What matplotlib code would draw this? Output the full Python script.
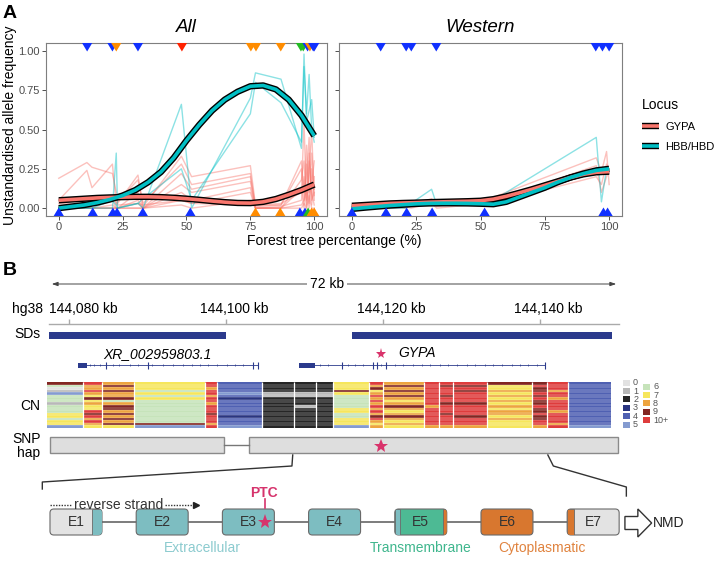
import numpy as np
import matplotlib.pyplot as plt
from matplotlib.lines import Line2D
from matplotlib.patches import Rectangle, FancyBboxPatch, FancyArrow
from matplotlib.colors import ListedColormap, BoundaryNorm
from matplotlib.legend_handler import HandlerTuple

plt.rcParams['font.family'] = ['Liberation Sans', 'DejaVu Sans']

# ---------------- panel A : data ----------------
forest_all = [0, 11, 13, 21, 22.5, 23, 31, 33, 48, 52, 75, 77, 87, 95, 96, 97, 98, 99, 100]
gypa_snps_all = [
    [0.19, 0.29, 0.26, 0.22, 0.10, 0.02, 0.03, 0.02, 0.05, 0.03, 0.02, 0.02, 0.03, 0.10, 0.55, 0.02, 0.30, 0.05, 0.10],
    [0.05, 0.24, 0.13, 0.28, 0.02, 0.03, 0.21, 0.01, 0.33, 0.20, 0.27, 0.02, 0.02, 0.25, 0.05, 0.40, 0.03, 0.35, 0.12],
    [0.03, 0.02, 0.05, 0.08, 0.03, 0.04, 0.18, 0.03, 0.28, 0.15, 0.22, 0.01, 0.02, 0.30, 0.10, 0.20, 0.45, 0.02, 0.20],
    [0.00, 0.00, 0.02, 0.05, 0.00, 0.00, 0.10, 0.00, 0.22, 0.12, 0.20, 0.00, 0.00, 0.18, 0.30, 0.05, 0.22, 0.50, 0.05],
    [0.00, 0.00, 0.00, 0.00, 0.00, 0.00, 0.05, 0.00, 0.15, 0.10, 0.17, 0.00, 0.00, 0.12, 0.00, 0.28, 0.10, 0.15, 0.30],
    [0.00, 0.00, 0.00, 0.02, 0.00, 0.00, 0.03, 0.00, 0.10, 0.05, 0.13, 0.00, 0.01, 0.05, 0.20, 0.00, 0.35, 0.10, 0.02],
    [0.00, 0.00, 0.00, 0.00, 0.00, 0.00, 0.00, 0.00, 0.05, 0.03, 0.10, 0.00, 0.00, 0.02, 0.05, 0.12, 0.00, 0.25, 0.08],
    [0.00, 0.00, 0.00, 0.00, 0.00, 0.00, 0.00, 0.00, 0.02, 0.00, 0.05, 0.00, 0.00, 0.00, 0.03, 0.00, 0.08, 0.00, 0.00],
]
hbb_snps_all = [
    [0.00, 0.00, 0.00, 0.00, 0.35, 0.00, 0.03, 0.00, 0.66, 0.00, 0.70, 0.86, 0.82, 0.38, 0.98, 0.55, 0.62, 0.69, 0.45],
    [0.00, 0.00, 0.00, 0.05, 0.02, 0.00, 0.03, 0.06, 0.25, 0.05, 0.60, 0.80, 0.67, 0.42, 0.90, 0.60, 0.85, 0.50, 0.42],
]

forest_w = [0, 11, 13, 21, 23, 31, 33, 52, 95, 97, 99, 100]
gypa_snps_w = [
    [0.00, 0.00, 0.00, 0.00, 0.02, 0.06, 0.01, 0.05, 0.32, 0.23, 0.36, 0.15],
    [0.00, 0.00, 0.00, 0.01, 0.00, 0.03, 0.00, 0.03, 0.27, 0.10, 0.20, 0.25],
    [0.02, 0.00, 0.03, 0.02, 0.03, 0.02, 0.02, 0.02, 0.20, 0.15, 0.28, 0.22],
]
hbb_snps_w = [
    [0.00, 0.00, 0.00, 0.00, 0.03, 0.12, 0.02, 0.02, 0.45, 0.04, 0.25, 0.25],
]

fit_x = [0, 5, 10, 15, 20, 25, 30, 35, 40, 45, 50, 55, 60, 65, 70, 75, 80, 85, 90, 95, 100]
gypa_fit_all = [0.050, 0.055, 0.060, 0.065, 0.068, 0.070, 0.072, 0.072, 0.070, 0.066, 0.060,
                0.053, 0.045, 0.038, 0.033, 0.032, 0.040, 0.058, 0.085, 0.115, 0.150]
hbb_fit_all = [0.000, 0.010, 0.020, 0.035, 0.055, 0.080, 0.115, 0.165, 0.230, 0.320, 0.430,
               0.530, 0.620, 0.690, 0.740, 0.775, 0.780, 0.755, 0.690, 0.590, 0.460]
gypa_fit_w = [0.015, 0.020, 0.025, 0.030, 0.033, 0.035, 0.038, 0.040, 0.042, 0.044, 0.047,
              0.057, 0.075, 0.097, 0.120, 0.145, 0.170, 0.195, 0.215, 0.228, 0.232]
hbb_fit_w = [-0.005, 0.003, 0.010, 0.017, 0.022, 0.027, 0.030, 0.031, 0.031, 0.030, 0.028,
             0.025, 0.040, 0.070, 0.100, 0.130, 0.165, 0.195, 0.220, 0.240, 0.250]

# triangles: x position and colour key
top_all = [(11.1, 'b'), (21, 'b'), (22.5, 'o'), (31, 'b'), (48.2, 'r'), (75.2, 'o'), (77.2, 'o'),
           (86.9, 'o'), (94.8, 'g'), (95.7, 'g'), (97.4, 'b'), (98.3, 'o'), (99.6, 'b'), (100, 'b')]
bot_all = [(0, 'b'), (13.3, 'b'), (21.2, 'b'), (22.8, 'b'), (32.9, 'b'), (51.5, 'b'), (77, 'o'),
           (86.7, 'o'), (94.4, 'b'), (96.4, 'b'), (97.6, 'g'), (99, 'o'), (100, 'o')]
top_w = [(11.2, 'b'), (21.1, 'b'), (23.1, 'b'), (32.8, 'b'), (94.8, 'b'), (97.4, 'b'), (100, 'b')]
bot_w = [(0, 'b'), (13.3, 'b'), (21.3, 'b'), (31.2, 'b'), (51.6, 'b'), (97.8, 'b'), (99.4, 'b')]
tri_col = {'b': '#1030ff', 'o': '#ff8c00', 'r': '#ff2200', 'g': '#22bb22'}

GYPA_C = '#F8766D'
HBB_C = '#00BFC4'

# ---------------- panel B : data ----------------
region = (144077.45, 144150.06)
hg38_ticks = [144080, 144100, 144120, 144140]
sd_blocks = [(144077.45, 144100.0), (144116.05, 144149.2)]

xr_gene = (144081.1, 144104.1)
xr_box = (144081.1, 144082.3)
xr_marks = [144082.7, 144083.2, 144084.0, 144084.7, 144085.6, 144086.4, 144087.8, 144088.8, 144090.0,
            144090.6, 144092.0, 144093.3, 144094.5, 144095.7, 144096.7, 144097.7, 144098.9, 144100.1,
            144101.2, 144102.2, 144103.5, 144104.1]
xr_exons = [144084.7, 144090.0, 144103.5, 144104.1]
gypa_gene = (144109.3, 144140.6)
gypa_box = (144109.3, 144111.3)
gypa_marks = [144112.0, 144113.0, 144114.8, 144115.5, 144116.4, 144117.5, 144118.7, 144119.2, 144119.7,
              144120.4, 144121.5, 144122.5, 144123.8, 144125.0, 144126.0, 144127.3, 144128.3, 144129.4,
              144130.7, 144131.7, 144133.0, 144134.0, 144135.2, 144136.4, 144137.5, 144138.5, 144139.6,
              144140.6]
gypa_exons = [144114.8, 144118.7, 144119.2, 144120.4, 144140.6]
ptc_kb = 144119.7

cn_edges = [144077.2, 144081.8, 144084.2, 144088.3, 144097.3, 144098.9, 144104.6, 144108.7, 144111.5,
            144113.6, 144118.2, 144120.0, 144125.2, 144127.1, 144128.9, 144133.2, 144139.0, 144140.9,
            144143.6, 144149.0]
# one string per column, top row first; 'a' = 10+
cn_cols = [
    "960156661666776775",
    "a88a8797877a9a8a87",
    "898988968998989897",
    "777676766666666695",
    "aa8aa8aa8aaa9aaa8a",
    "444454344444434445",
    "222211222222222222",
    "222211222122222222",
    "222211222222222222",
    "777976666677667775",
    "a8978a8a8a8a89a878",
    "898989878987898787",
    "aaaaaaaaa8aaaaaaa8",
    "a9aaa9aa9aaa9aaaa8",
    "a9a9aaaa9aaaa9aaa8",
    "977878787878878777",
    "9a99a9a99a99a99aa8",
    "aaa8aa8aaaa8aaaa8a",
    "444444444444444445",
]
cn_colors = ['#e2e2e2', '#b8b8b8', '#262626', '#2a3580', '#4f60b2', '#849bd0',
             '#c6e3ba', '#f6e65c', '#eda43f', '#822622', '#de3c3c']
cn_labels = ['0', '1', '2', '3', '4', '5', '6', '7', '8', '9', '10+']

snp_blocks = [(144077.6, 144099.7), (144102.9, 144149.9)]

exon_names = ['E1', 'E2', 'E3', 'E4', 'E5', 'E6', 'E7']
TEAL, GREEN, ORANGE, GREY = '#7dbdc1', '#4dba94', '#d8772f', '#e3e3e3'
exon_fill = [GREY, TEAL, TEAL, TEAL, GREEN, ORANGE, GREY]
# (side, fraction of width, colour)
exon_strips = {0: [('right', 0.19, TEAL)], 4: [('left', 0.1, TEAL), ('right', 0.08, ORANGE)],
               6: [('left', 0.13, ORANGE)]}
domains = [('Extracellular', 1.763, '#8ccbcf'), ('Transmembrane', 4.30, '#3fb68d'),
           ('Cytoplasmatic', 5.71, '#e0833f')]

# ---------------- figure ----------------
fig = plt.figure(figsize=(7.2, 5.62), dpi=100)

axL = fig.add_axes([46 / 720, 1 - 216 / 562, 281 / 720, 173 / 562])
axR = fig.add_axes([339 / 720, 1 - 216 / 562, 283 / 720, 173 / 562])

tri_down = [(-0.6, 0), (0.6, 0), (0, -1), (-0.6, 0)]
tri_up = [(-0.6, 0), (0.6, 0), (0, 1), (-0.6, 0)]


def draw_panel(ax, fx, gsnps, hsnps, gfit, hfit, top, bot, title):
    for s in gsnps:
        ax.plot(fx, s, color=GYPA_C, alpha=0.45, lw=1.0, zorder=2)
    for s in hsnps:
        ax.plot(fx, s, color=HBB_C, alpha=0.45, lw=1.0, zorder=2)
    for fit, c in ((gfit, GYPA_C), (hfit, HBB_C)):
        ax.plot(fit_x, fit, color='black', lw=4.6, solid_capstyle='butt', zorder=3)
        ax.plot(fit_x, fit, color=c, lw=2.6, solid_capstyle='butt', zorder=4)
    ax.scatter([p[0] for p in top], [1.05] * len(top), marker=tri_down, s=150,
               c=[tri_col[p[1]] for p in top], linewidths=0, zorder=5)
    ax.scatter([p[0] for p in bot], [-0.05] * len(bot), marker=tri_up, s=150,
               c=[tri_col[p[1]] for p in bot], linewidths=0, zorder=5)
    ax.set_xlim(-5, 105)
    ax.set_ylim(-0.05, 1.05)
    ax.set_xticks([0, 25, 50, 75, 100])
    ax.set_yticks([0, 0.25, 0.5, 0.75, 1.0])
    ax.tick_params(colors='#333333', labelcolor='#4d4d4d', labelsize=8, length=3, width=0.6, pad=1.5)
    for sp in ax.spines.values():
        sp.set_color('#7f7f7f')
        sp.set_linewidth(0.8)
    ax.set_title(title, style='italic', fontsize=13.5, pad=8)


draw_panel(axL, forest_all, gypa_snps_all, hbb_snps_all, gypa_fit_all, hbb_fit_all, top_all, bot_all, 'All')
draw_panel(axR, forest_w, gypa_snps_w, hbb_snps_w, gypa_fit_w, hbb_fit_w, top_w, bot_w, 'Western')
axL.set_yticklabels(['0.00', '0.25', '0.50', '0.75', '1.00'])
axR.set_yticklabels([])

fig.text(10 / 720, 1 - 125 / 562, 'Unstandardised allele frequency', rotation=90,
         ha='center', va='center', fontsize=10)
fig.text(334 / 720, 1 - 241 / 562, 'Forest tree percentange (%)', ha='center', va='center', fontsize=10)

handles = [(Line2D([], [], color='black', lw=4.6, solid_capstyle='butt'),
            Line2D([], [], color=GYPA_C, lw=2.6, solid_capstyle='butt')),
           (Line2D([], [], color='black', lw=4.6, solid_capstyle='butt'),
            Line2D([], [], color=HBB_C, lw=2.6, solid_capstyle='butt'))]
fig.legend(handles, ['GYPA', 'HBB/HBD'], handler_map={tuple: HandlerTuple(ndivide=1, pad=0)},
           title='Locus', loc='upper left', bbox_to_anchor=(632 / 720, 1 - 88 / 562), frameon=False,
           fontsize=8, title_fontsize=10, handlelength=1.5, handletextpad=0.6, labelspacing=0.9,
           alignment='left')

fig.text(0.004, 1 - 13 / 562, 'A', fontsize=14, fontweight='bold', va='center')
fig.text(0.004, 1 - 271 / 562, 'B', fontsize=14, fontweight='bold', va='center')

# ---------------- panel B : genomic tracks ----------------
axB = fig.add_axes([0, 0, 1, 297 / 562])
axB.set_xlim(144071.21, 144162.93)
axB.set_ylim(562, 265)
axB.axis('off')

mid = (region[0] + region[1]) / 2 - 0.9
axB.annotate('', xy=(region[0], 284), xytext=(region[1], 284),
             arrowprops=dict(arrowstyle='<|-|>,head_length=0.35,head_width=0.12', color='#444444', lw=0.7))
axB.text(mid, 284, '72 kb', ha='center', va='center', fontsize=10,
         bbox=dict(fc='white', ec='none', pad=2))

axB.plot(region, [324, 324], color='#aaaaaa', lw=1)
axB.vlines(hg38_ticks, 319, 324, color='#aaaaaa', lw=1)
for t in hg38_ticks:
    axB.text(max(t - 3.3, region[0]), 309, f'{t:,} kb', ha='left', va='center', fontsize=10)
axB.text(region[0] - 0.8, 309, 'hg38', ha='right', va='center', fontsize=10)

axB.text(region[0] - 1.1, 334, 'SDs', ha='right', va='center', fontsize=10)
for a, b in sd_blocks:
    axB.add_patch(Rectangle((a, 332), b - a, 7, fc='#2b3a8c', ec='none'))

GENE_C = '#2b3a8c'
for gene, box, marks, exons in ((xr_gene, xr_box, xr_marks, xr_exons),
                                (gypa_gene, gypa_box, gypa_marks, gypa_exons)):
    axB.plot(gene, [365, 365], color=GENE_C, lw=0.6)
    axB.add_patch(Rectangle((box[0], 362.5), box[1] - box[0], 5, fc=GENE_C, ec='none'))
    axB.vlines(marks, 363.6, 366.4, color=GENE_C, lw=0.5)
    axB.vlines(exons, 361.5, 368.5, color=GENE_C, lw=0.8)
axB.text((xr_gene[0] + xr_gene[1]) / 2 - 1.3, 354, 'XR_002959803.1', style='italic',
         ha='center', va='center', fontsize=10)
axB.text(gypa_box[0] + 12.6, 353, 'GYPA', style='italic', ha='left', va='center', fontsize=10)
axB.plot(ptc_kb, 354, marker='*', color='#d9336b', markersize=8, markeredgewidth=0)

# copy number heatmap
cn = np.array([[10 if ch == 'a' else int(ch) for ch in col] for col in cn_cols]).T
cmap = ListedColormap(cn_colors)
norm = BoundaryNorm(np.arange(-0.5, 11.5, 1), cmap.N)
row_edges = np.linspace(382, 428, cn.shape[0] + 1)
axB.pcolormesh(cn_edges, row_edges, cn, cmap=cmap, norm=norm, shading='flat')
axB.hlines(row_edges[1:-1], cn_edges[0], cn_edges[-1], color='white', lw=0.25, alpha=0.9)
axB.vlines(cn_edges[1:-1], 382, 428, color='white', lw=0.9)
axB.text(region[0] - 1.1, 406, 'CN', ha='right', va='center', fontsize=10)

for i, (c, lab) in enumerate(zip(cn_colors, cn_labels)):
    col = 0 if i < 6 else 1
    row = i if i < 6 else i - 6
    x0 = region[1] + 0.55 + col * 2.55
    y0 = 379.5 + 8.4 * row + 4 * col
    axB.add_patch(Rectangle((x0, y0), 0.9, 6, fc=c, ec='none'))
    axB.text(x0 + 1.25, y0 + 3.3, lab, ha='left', va='center', fontsize=6.5, color='#555555')

# SNP haplotype blocks
axB.plot([snp_blocks[0][1], snp_blocks[1][0]], [445, 445], color='#777777', lw=1)
for a, b in snp_blocks:
    axB.add_patch(Rectangle((a, 437), b - a, 16, fc='#dedede', ec='#8a8a8a', lw=1))
axB.plot(ptc_kb, 446, marker='*', color='#d9336b', markersize=10, markeredgewidth=0)
axB.text(region[0] - 1.1, 446, 'SNP\nhap', ha='right', va='center', fontsize=10, linespacing=1.0)

# zoom lines to the exon diagram
axB.plot([144108.5, 144108.4, 144076.6, 144076.6], [455, 466, 482, 489], color='#333333', lw=1)
axB.plot([144141.0, 144141.7, 144151.0, 144151.0], [455, 466, 487, 496], color='#333333', lw=1)

# ---------------- panel B : exon diagram ----------------
axE = fig.add_axes([0, 0, 1, 297 / 562])
axE.set_xlim(-0.58, 7.773)
axE.set_ylim(562, 265)
axE.axis('off')
axE.patch.set_alpha(0)

ew = 0.603
ex_top, ex_h = 509, 26
axE.plot([ew / 2, len(exon_names) - 1 + ew / 2], [522, 522], color='#666666', lw=1.2, zorder=1)
for i, (name, fc) in enumerate(zip(exon_names, exon_fill)):
    box = FancyBboxPatch((i, ex_top), ew, ex_h, boxstyle='round,pad=0,rounding_size=0.045',
                         mutation_aspect=86.2, fc=fc, ec='#6a6a6a', lw=0.8, zorder=2)
    axE.add_patch(box)
    for side, frac, c in exon_strips.get(i, []):
        x0 = i if side == 'left' else i + ew * (1 - frac)
        strip = Rectangle((x0, ex_top), ew * frac, ex_h, fc=c, ec='#6a6a6a', lw=0.6, zorder=3)
        axE.add_patch(strip)
        strip.set_clip_path(box)
    axE.text(i + ew / 2, 522.5, name, ha='center', va='center', fontsize=10, color='#333333', zorder=4)

for name, x, c in domains:
    axE.text(x, 548, name, ha='center', va='center', fontsize=10, color=c)

axE.plot([0.0, 0.255], [505, 505], color='#333333', lw=1, ls=(0, (1, 1)))
axE.text(0.28, 505, 'reverse strand', ha='left', va='center', fontsize=10, color='#333333')
axE.plot([1.334, 1.66], [505, 505], color='#333333', lw=1, ls=(0, (1, 1)))
axE.plot(1.69, 505, marker='>', color='#222222', markersize=4)

PTC_C = '#d6336c'
axE.text(2.48, 493, 'PTC', ha='center', va='center', fontsize=10, fontweight='bold', color=PTC_C)
axE.plot([2.494, 2.494], [499, 508], color=PTC_C, lw=1.2)
axE.plot(2.494, 522, marker='*', color=PTC_C, markersize=11, markeredgewidth=0, zorder=5)

axE.add_patch(FancyArrow(6.67, 523, 0.31, 0, width=13, head_width=28, head_length=0.16,
                         length_includes_head=True, fc='white', ec='#333333', lw=1))
axE.text(7.0, 523, 'NMD', ha='left', va='center', fontsize=10, color='#222222')

fig.savefig('out.png', dpi=100)
